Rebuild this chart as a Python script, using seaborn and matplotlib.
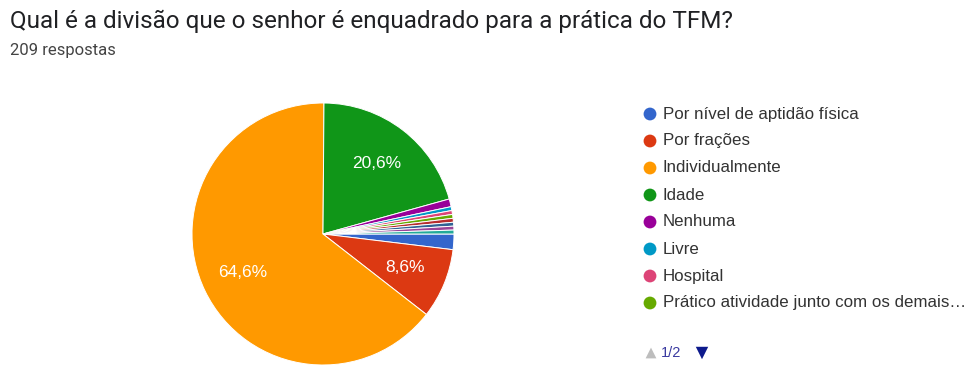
import matplotlib
matplotlib.use("Agg")
import matplotlib.pyplot as plt
import seaborn as sns

# --- survey data -----------------------------------------------------------
question = "Qual é a divisão que o senhor é enquadrado para a prática do TFM?"
responses_label = "209 respostas"

categories = [
    "Por nível de aptidão física",
    "Por frações",
    "Individualmente",
    "Idade",
    "Nenhuma",
    "Livre",
    "Hospital",
    "Prático atividade junto com os demais…",
    "Outra resposta 1",
    "Outra resposta 2",
    "Outra resposta 3",
    "Outra resposta 4",
]
counts = [4, 18, 135, 43, 2, 1, 1, 1, 1, 1, 1, 1]
slice_colors = [
    "#3366cc", "#dc3912", "#ff9900", "#109618", "#990099", "#0099c6",
    "#dd4477", "#66aa00", "#b82e2e", "#316395", "#994499", "#22aa99",
]
legend_page = "1/2"
items_per_page = 8

# --- style -----------------------------------------------------------------
sns.set_theme(style="white")
plt.rcParams["font.family"] = ["Roboto", "DejaVu Sans"]
chart_font = ["Liberation Sans", "DejaVu Sans"]
palette = sns.color_palette(slice_colors)

W, H = 971, 365
fig = plt.figure(figsize=(W / 100, H / 100), dpi=100)
fig.patch.set_facecolor("white")

# --- pie -------------------------------------------------------------------
cx, cy, r = 323, 234, 131
pie_ax = fig.add_axes([(cx - r) / W, (H - cy - r) / H, 2 * r / W, 2 * r / H])


def pct_label(pct):
    return f"{pct:.1f}%".replace(".", ",") if pct >= 5 else ""


wedges, _, autotexts = pie_ax.pie(
    counts,
    colors=palette,
    startangle=0,
    counterclock=False,
    autopct=pct_label,
    pctdistance=0.68,
    wedgeprops=dict(edgecolor="white", linewidth=0.7),
    textprops=dict(color="white", fontsize=12.5, family=chart_font),
)
pie_ax.set_xlim(-1, 1)
pie_ax.set_ylim(-1, 1)
pie_ax.set_aspect("equal")
pie_ax.axis("off")

# --- header and legend (pixel coordinates) ---------------------------------
ov = fig.add_axes([0, 0, 1, 1], zorder=-1)
ov.set_xlim(0, W)
ov.set_ylim(H, 0)
ov.axis("off")

ov.text(10, 21, question, fontsize=17.5, color="#202124", va="center", ha="left")
ov.text(10, 50, responses_label, fontsize=12, color="#444444", va="center", ha="left")

for i, (label, col) in enumerate(zip(categories[:items_per_page], slice_colors)):
    y = 114 + 27 * i
    ov.scatter([650], [y], s=85, color=col, edgecolor="none")
    ov.text(663, y, label, fontsize=12.2, color="#333333", va="center", ha="left",
            family=chart_font)

ov.scatter([651], [353], marker="^", s=60, color="#bdbdbd", edgecolor="none")
ov.text(661, 353, legend_page, fontsize=10.5, color="#3a3aa0", va="center", ha="left",
        family=chart_font)
ov.scatter([702], [353], marker="v", s=80, color="#0d1a8c", edgecolor="none")

fig.savefig("out.png", dpi=100, facecolor="white")
